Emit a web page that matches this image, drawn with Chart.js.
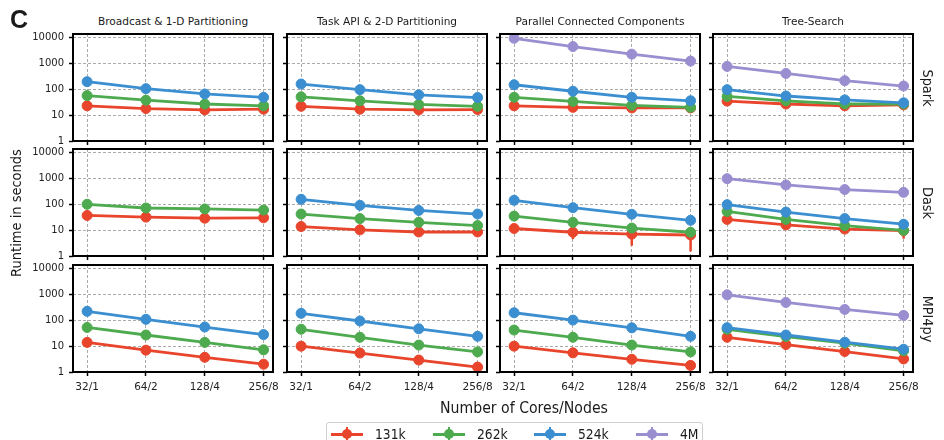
<!DOCTYPE html>
<html>
<head>
<meta charset="utf-8">
<script src="https://cdn.jsdelivr.net/npm/chart.js@4.4.1/dist/chart.umd.min.js"></script>
<style>
  body { margin: 0; width: 944px; height: 440px; position: relative; overflow: hidden; background: #fff;
         font-family: "DejaVu Sans", sans-serif; color: #1a1a1a; }
  canvas { position: absolute; }
  .txt { position: absolute; white-space: nowrap; line-height: 1; }
  .legend { position: absolute; left: 326px; top: 422px; width: 377px; height: 30px;
            border: 1px solid #cfcfcf; border-radius: 3px; box-sizing: border-box; }
  .mk { position: absolute; top: 10px; width: 32px; height: 2.5px; }
  .mk i { position: absolute; left: 11px; top: -4px; width: 10px; height: 10px; border-radius: 50%; background: inherit; }
  .mk b { position: absolute; left: 15px; top: -6px; width: 2px; height: 14px; background: inherit; }
</style>
</head>
<body>
<script>
(function () {
    "use strict";

    // Data
    const categories = ["32/1", "64/2", "128/4", "256/8"];
    const sizes = ["131k", "262k", "524k", "4M"];
    const systems = ["Spark", "Dask", "MPI4py"];
    const algorithms = [
        "Broadcast & 1-D Partitioning",
        "Task API & 2-D Partitioning",
        "Parallel Connected Components",
        "Tree-Search",
    ];
    const yTickValues = [1, 10, 100, 1000, 10000];
    const yTickLabels = ["1", "10", "100", "1000", "10000"];

    // runtime (s) per panel, one row per size: 131k, 262k, 524k, 4M (null = not run)
    const sparkBroadcast = [[23, 18, 16, 17], [57, 38, 27, 23], [197, 106, 66, 49], null];
    const sparkTaskApi = [[22, 17, 16, 16.5], [51, 36, 26, 22], [160, 97, 61, 48], null];
    const sparkPcc = [[23, 20, 19, 19], [49, 34, 24, 20], [150, 84, 49, 36], [9400, 4500, 2290, 1235]];
    const sparkTree = [[35, 27, 23, 25], [53, 36, 27, 27], [97, 55, 39, 30], [770, 410, 215, 134]];
    const daskBroadcast = [[37, 32, 29, 30], [100, 72, 66, 60], null, null];
    const daskTaskApi = [[13.8, 10.3, 8.5, 8.5], [42, 28, 20, 15], [156, 91, 58, 42], null];
    const daskPcc = [[11.6, 8.3, 7, 6.5], [35, 20, 12, 8.3], [143, 74, 41, 24], null];
    const daskTree = [[26, 16, 11, 9.6], [53, 26, 15, 9.8], [97, 50, 28, 17], [980, 560, 372, 290]];
    const mpiBroadcast = [[14, 7, 3.7, 2], [53, 27, 14, 7.2], [222, 109, 55, 28], null];
    const mpiTaskApi = [[10, 5.4, 2.9, 1.55], [45, 22, 11, 6], [186, 94, 47, 24], null];
    const mpiPcc = [[10, 5.5, 3.1, 1.8], [42, 22, 11, 6], [196, 102, 51, 24], null];
    const mpiTree = [[22, 11.5, 6.2, 3.2], [45, 23.5, 13, 6.6], [52, 27, 14.2, 7.6], [970, 490, 263, 155]];

    // standard deviations where an error bar shows
    const daskPccErr = [[0, 3.8, 4.5, 5], null, null, null];
    const daskTreeErr = [[0, 0, 0, 4.9], null, null, null];

    const panelData = [
        [sparkBroadcast, sparkTaskApi, sparkPcc, sparkTree],
        [daskBroadcast, daskTaskApi, daskPcc, daskTree],
        [mpiBroadcast, mpiTaskApi, mpiPcc, mpiTree],
    ];
    const panelErr = [
        [null, null, null, null],
        [null, null, daskPccErr, daskTreeErr],
        [null, null, null, null],
    ];

    const colors = ["#e8452c", "#4eaa4f", "#3b8fd0", "#9a8ed1"];

    // layout
    const colLefts = [73, 287, 500, 713];
    const rowTops = [34, 149, 265];
    const plotW = 200;
    const plotH = 107;
    const padL = 48, padT = 6, padR = 16, padB = 26;

    Chart.defaults.font.family = "'DejaVu Sans', sans-serif";
    Chart.defaults.color = "#222";

    const framePlugin = {
        id: "frame",
        afterDraw(chart) {
            const { ctx, chartArea: a } = chart;
            ctx.save();
            ctx.strokeStyle = "#000";
            ctx.lineWidth = 2;
            ctx.strokeRect(a.left, a.top, a.right - a.left, a.bottom - a.top);
            ctx.restore();
        },
    };

    const errorBars = {
        id: "errorBars",
        beforeDatasetsDraw(chart) {
            const { ctx, scales } = chart;
            chart.data.datasets.forEach((ds) => {
                if (!ds.errors) return;
                ctx.save();
                ctx.strokeStyle = ds.borderColor;
                ctx.lineWidth = 2.5;
                ds.data.forEach((p, i) => {
                    const e = ds.errors[i];
                    if (!e) return;
                    const lo = Math.max(p.y - e, scales.y.min);
                    const px = scales.x.getPixelForValue(p.x);
                    ctx.beginPath();
                    ctx.moveTo(px, scales.y.getPixelForValue(lo));
                    ctx.lineTo(px, scales.y.getPixelForValue(p.y + e));
                    ctx.stroke();
                });
                ctx.restore();
            });
        },
    };

    function addText(text, x, y, css, transform) {
        const d = document.createElement("div");
        d.className = "txt";
        d.textContent = text;
        d.style.cssText = "left:" + x + "px;top:" + y + "px;" + css +
            "transform:translate(-50%,-50%)" + (transform || "") + ";";
        document.body.appendChild(d);
    }

    panelData.forEach((row, r) => {
        row.forEach((rows, c) => {
            const errs = panelErr[r][c];
            const canvas = document.createElement("canvas");
            const w = padL + plotW + padR;
            const h = padT + plotH + padB;
            canvas.width = w;
            canvas.height = h;
            canvas.style.width = w + "px";
            canvas.style.height = h + "px";
            canvas.style.left = colLefts[c] - padL + "px";
            canvas.style.top = rowTops[r] - padT + "px";
            document.body.appendChild(canvas);

            const datasets = [];
            sizes.forEach((s, k) => {
                if (!rows[k]) return;
                datasets.push({
                    label: s,
                    data: rows[k].map((v, i) => ({ x: i, y: v })),
                    borderColor: colors[k],
                    backgroundColor: colors[k],
                    borderWidth: 2.8,
                    pointRadius: 5,
                    pointBorderWidth: 1,
                    pointBackgroundColor: colors[k],
                    pointBorderColor: colors[k],
                    tension: 0,
                    order: 3 - k,
                    errors: errs && errs[k] ? errs[k] : null,
                });
            });

            new Chart(canvas.getContext("2d"), {
                type: "line",
                data: { datasets: datasets },
                plugins: [errorBars, framePlugin],
                options: {
                    responsive: false,
                    animation: false,
                    events: [],
                    layout: { padding: { left: 0, top: padT, right: padR, bottom: 0 } },
                    plugins: { legend: { display: false }, tooltip: { enabled: false } },
                    scales: {
                        x: {
                            type: "linear",
                            min: -0.24,
                            max: 3.16,
                            afterBuildTicks: (scale) => {
                                scale.ticks = categories.map((_, i) => ({ value: i }));
                            },
                            afterFit: (scale) => {
                                scale.height = padB;
                                scale.paddingLeft = 0;
                                scale.paddingRight = 0;
                            },
                            ticks: {
                                display: r === 2,
                                callback: (v) => categories[v],
                                font: { size: 10.5 },
                                padding: 5,
                                maxRotation: 0,
                            },
                            grid: {
                                color: "#ababab",
                                lineWidth: 1,
                                tickColor: "#000",
                                tickWidth: 1.5,
                                tickLength: 4,
                                tickBorderDash: [],
                            },
                            border: { display: false, dash: [3, 2] },
                        },
                        y: {
                            type: "logarithmic",
                            min: 1,
                            max: 13800,
                            afterBuildTicks: (scale) => {
                                scale.ticks = yTickValues.map((v) => ({ value: v }));
                            },
                            afterFit: (scale) => {
                                scale.width = padL;
                                scale.paddingTop = 0;
                                scale.paddingBottom = 0;
                            },
                            ticks: {
                                display: c === 0,
                                callback: (v) => yTickLabels[yTickValues.indexOf(v)],
                                font: { size: 10 },
                                padding: 5,
                            },
                            grid: {
                                color: "#ababab",
                                lineWidth: 1,
                                tickColor: "#000",
                                tickWidth: 1.5,
                                tickLength: 4,
                                tickBorderDash: [],
                            },
                            border: { display: false, dash: [3, 2] },
                        },
                    },
                },
            });
        });
    });

    // panel titles, row labels, axis titles
    algorithms.forEach((t, c) => {
        addText(t, colLefts[c] + plotW / 2, 21, "font-size:11px;", " scaleX(0.96)");
    });
    systems.forEach((s, r) => {
        addText(s, 928, rowTops[r] + plotH / 2, "font-size:14px;", " rotate(90deg) scaleX(0.92)");
    });
    addText("Runtime in seconds", 16, 213, "font-size:14px;", " rotate(-90deg) scaleX(0.93)");
    addText("Number of Cores/Nodes", 524, 408, "font-size:16px;", " scaleX(0.88)");

    const cLabel = document.createElement("div");
    cLabel.className = "txt";
    cLabel.textContent = "C";
    cLabel.style.cssText = "left:10px;top:5px;font:bold 25px 'Liberation Sans',Arial,sans-serif;";
    document.body.appendChild(cLabel);

    // legend
    const legend = document.createElement("div");
    legend.className = "legend";
    sizes.forEach((s, k) => {
        const mk = document.createElement("div");
        mk.className = "mk";
        mk.style.left = 4 + k * 101.7 + "px";
        mk.style.background = colors[k];
        mk.innerHTML = "<i></i><b></b>";
        legend.appendChild(mk);
        const t = document.createElement("div");
        t.className = "txt";
        t.textContent = s;
        t.style.cssText = "left:" + (48 + k * 101.7) + "px;top:4px;font-size:14px;transform:scaleX(0.88);transform-origin:left;";
        legend.appendChild(t);
    });
    document.body.appendChild(legend);
})();
</script>
</body>
</html>
